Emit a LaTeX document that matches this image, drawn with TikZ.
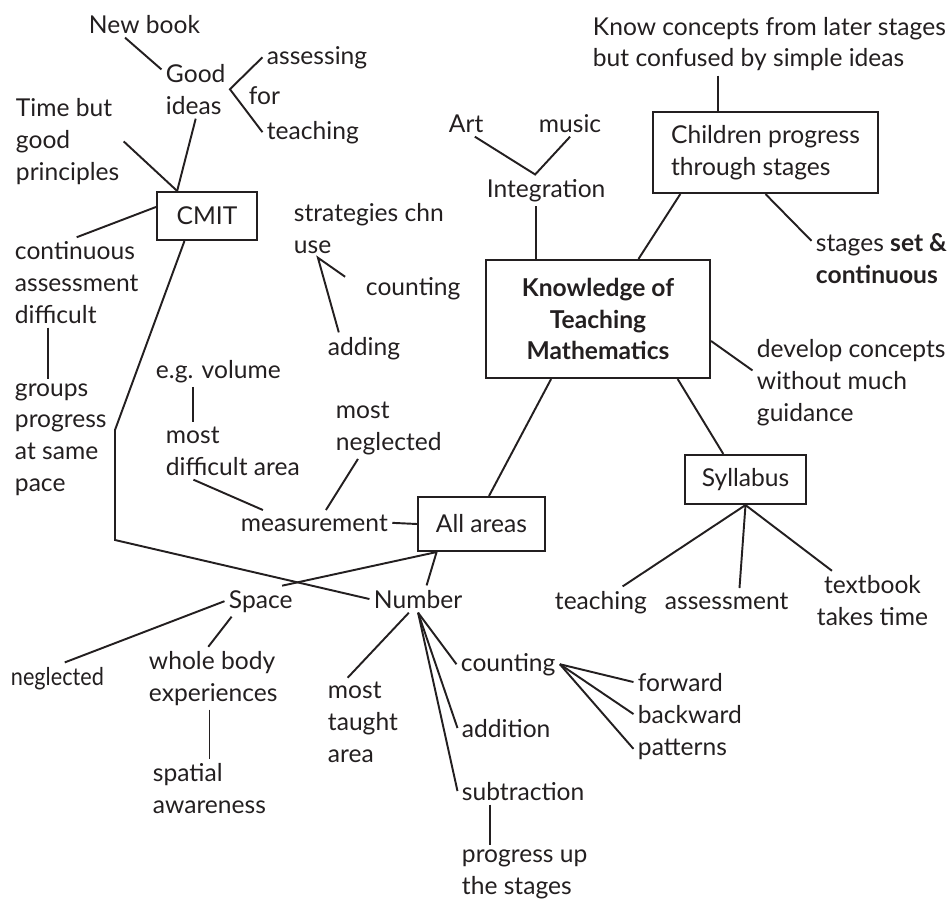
\documentclass[tikz,border=0pt]{standalone}
\usepackage{fontspec}
\usepackage{graphicx}
\setmainfont{Lato}
\usetikzlibrary{positioning}
\definecolor{ink}{RGB}{35,31,32}

\begin{document}
\begin{tikzpicture}[x=0.02cm, y=-0.02cm, line width=1.1pt, color=ink,
  note/.style={anchor=base west, xshift=-2pt, inner sep=2pt, align=left, font=\fontsize{14}{18}\selectfont},
  topic/.style={draw, line width=1.2pt, inner sep=2pt, font=\fontsize{14}{18}\selectfont}]
\useasboundingbox (0,0) rectangle (951,899);

% CMIT branch (multi-line notes sit on their last baseline)
\node[note] (newbook) at (88,33) {New book};
\node[note] (good) at (165,114) {Good\\ideas};
\node[note] (assessing) at (266,64) {assessing};
\node[note] (for) at (248,104) {for};
\node[note] (teachA) at (266,139) {teaching};
\node[note] (timebut) at (15,180) {Time but\\good\\principles};
\node[topic, minimum width=2cm, minimum height=0.96cm] (cmit) at (207,216) {CMIT};
\node[note] (contass) at (14,323) {continuous\\assessment\\difficult};
\node[note] (groups) at (14,491) {groups\\progress\\at same\\pace};

% middle notes
\node[note] (strategies) at (293,253) {strategies chn\\use};
\node[note] (countA) at (365,295) {counting};
\node[note] (adding) at (327,355) {adding};
\node[note] (egvol) at (155,378) {e.g. volume};
\node[note] (mostdiff) at (165,475) {most\\difficult area};
\node[note] (mostneg) at (335,450) {most\\neglected};
\node[note] (measure) at (240,531) {measurement};
\node[topic, minimum width=2.54cm, minimum height=1.08cm] (allareas) at (481.5,524) {All areas};

% space and number
\node[note] (space) at (228,608) {Space};
\node[note] (number) at (373,608) {Number};
\node[note] (neglected) at (10,685) {\scalebox{0.88}[1]{neglected}};
\node[note] (wholebody) at (148,701) {whole body\\experiences};
\node[note] (spatial) at (152,813) {spatial\\awareness};
\node[note] (taught) at (327,762) {most\\taught\\area};
\node[note] (countB) at (460,671) {counting};
\node[note] (addition) at (461,737) {addition};
\node[note] (subtract) at (461,800) {subtraction};
\node[note] (stagesup) at (461,894) {progress up\\the stages};
\node[note] (forward) at (637,691) {forward};
\node[note] (backward) at (637,723) {backward};
\node[note] (patterns) at (637,755) {patterns};

% centre and right side
\node[topic, minimum width=4.48cm, minimum height=2.36cm, align=center,
  font=\bfseries\fontsize{14}{18}\selectfont] (ktm) at (598,319) {Knowledge of\\Teaching\\Mathematics};
\node[topic, minimum width=2.42cm, minimum height=0.98cm] (syllabus) at (745.5,479.5) {Syllabus};
\node[note] (teachB) at (554,609) {teaching};
\node[note] (assess) at (664,609) {assessment};
\node[note, anchor=base, xshift=0pt, align=center] (textbook) at (876,625) {textbook\\takes time};
\node[note] (integration) at (486,197) {Integration};
\node[note] (art) at (448,132) {Art};
\node[note] (music) at (538,132) {music};
\node[topic, minimum width=4.5cm, minimum height=1.62cm, align=left] (children) at (765.5,152.5) {Children progress\\through stages};
\node[note] (know) at (592,67) {Know concepts from later stages\\but confused by simple ideas};
\node[note] (stages) at (815,283) {stages \textbf{set \&}\\\textbf{continuous}};
\node[note] (develop) at (756,421) {develop concepts\\without much\\guidance};

\coordinate (bendtop) at (115,430);
\coordinate (bendlow) at (115,540);

% links
\draw (newbook.-145) -- (good.150);
\draw (assessing.west) -- (good.east) -- (teachA.west);
\draw (timebut.east) -- (cmit.140);
\draw (good.south) -- (cmit.140);
\draw (cmit.170) -- (contass.north);
\draw (groups.102 |- contass.south) -- (groups.102);
\draw (cmit.-132) -- (bendtop) -- (bendlow) -- (number.west);
\draw[shorten <=0.4cm] (countA.west) -- (strategies.-150) -- (adding.148);
\draw (mostdiff.144 |- egvol.south) -- (mostdiff.144);
\draw (mostdiff.-144) -- (measure.166);
\draw (mostneg.-135) -- (measure.48);
\draw (measure.east) -- (allareas.west);
\draw (ktm.-128) -- (allareas.75);
\draw (space.36) -- (allareas.-148) -- (number.58);
\draw (space.west) -- (neglected.65);
\draw (space.-152) -- (wholebody.99);
\draw (wholebody.south -| spatial.north) -- (spatial.north);
\draw (number.-124) -- (taught.109);
\foreach \leaf in {countB, addition, subtract}
  \draw (number.south) -- (\leaf.west);
\draw (stagesup.140 |- subtract.south) -- (stagesup.140);
\foreach \leaf in {forward, backward, patterns}
  \draw (countB.east) -- (\leaf.west);
\draw (ktm.-37) -- (syllabus.131);
\foreach \leaf/\ang in {teachB/36, assess/45, textbook/144}
  \draw (syllabus.south) -- (\leaf.\ang);
\draw (integration.-123 |- ktm.north) -- (integration.-123);
\draw (art.-57) -- (integration.125) -- (music.south);
\draw (children.139 |- know.south) -- (children.139);
\draw (children.-154) -- (ktm.56);
\draw (children.south) -- (stages.166);
\draw (ktm.-11) -- (develop.173);
\end{tikzpicture}
\end{document}
